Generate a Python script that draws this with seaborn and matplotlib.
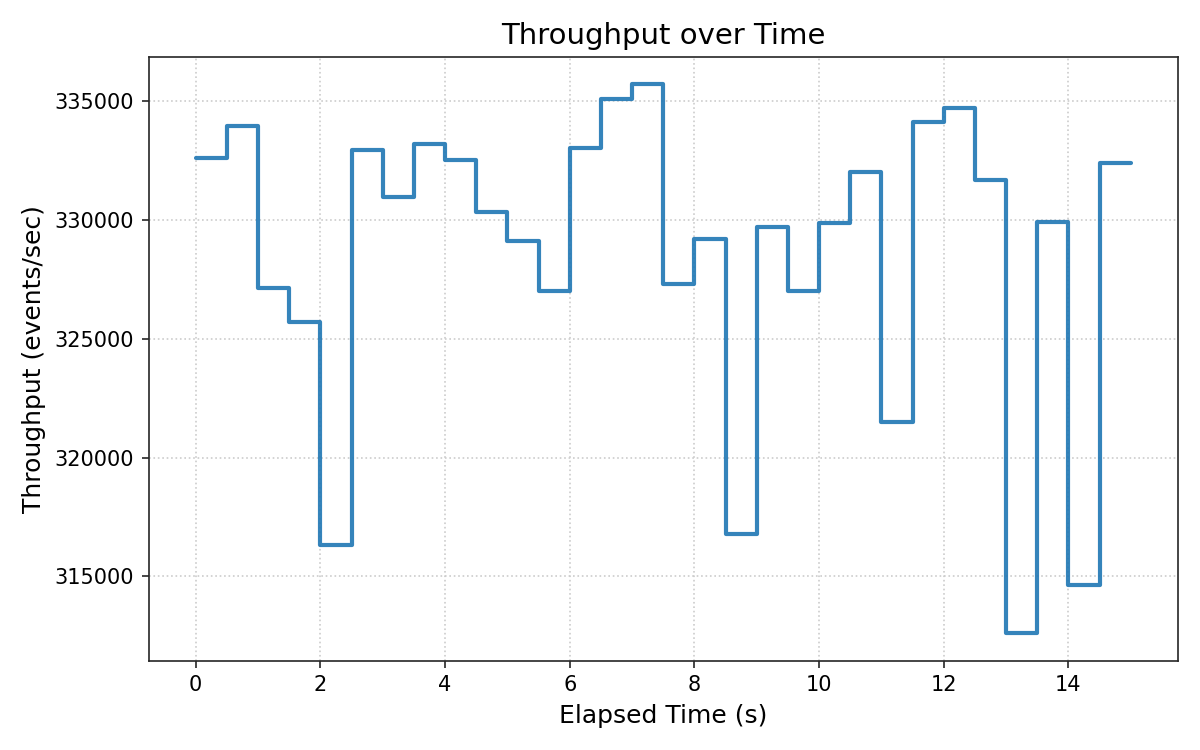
import pandas as pd
import matplotlib
matplotlib.use("Agg")
import matplotlib.pyplot as plt
import seaborn as sns

# Elapsed time (s) and throughput samples (events/sec)
elapsed = [0, 0.5, 1, 1.5, 2, 2.5, 3, 3.5, 4, 4.5, 5, 5.5, 6, 6.5, 7, 7.5,
           8, 8.5, 9, 9.5, 10, 10.5, 11, 11.5, 12, 12.5, 13, 13.5, 14, 14.5, 15]
throughput = [332600, 333960, 327150, 325710, 316330, 332960, 330960, 333210,
              332540, 330320, 329100, 327020, 333030, 335100, 335700, 327290,
              329180, 316790, 329690, 327020, 329860, 332010, 321490, 334130,
              334720, 331670, 312610, 329900, 314640, 332380, 332380]

df = pd.DataFrame({"Elapsed": elapsed, "Throughput": throughput})

sns.set_style("ticks")
plt.rcParams["font.family"] = ["DejaVu Sans"]
plt.rcParams["text.color"] = "black"
plt.rcParams["axes.labelcolor"] = "black"
plt.rcParams["xtick.color"] = "#262626"
plt.rcParams["ytick.color"] = "#262626"
plt.rcParams["xtick.labelcolor"] = "black"
plt.rcParams["ytick.labelcolor"] = "black"

fig, ax = plt.subplots(figsize=(8, 5), dpi=150)
sns.lineplot(data=df, x="Elapsed", y="Throughput", ax=ax,
             drawstyle="steps-post", color="tab:blue", alpha=0.9, linewidth=2)

ax.set_title("Throughput over Time", fontsize=14)
ax.set_xlabel("Elapsed Time (s)", fontsize=12)
ax.set_ylabel("Throughput (events/sec)", fontsize=12)
ax.ticklabel_format(axis="y", style="plain", useOffset=False)
ax.grid(True, linestyle=":", color="#cccccc", linewidth=0.8)
ax.set_xticks([0, 2, 4, 6, 8, 10, 12, 14])
for s in ax.spines.values():
    s.set_visible(True)

plt.tight_layout()
plt.savefig("out.png", dpi=150)
